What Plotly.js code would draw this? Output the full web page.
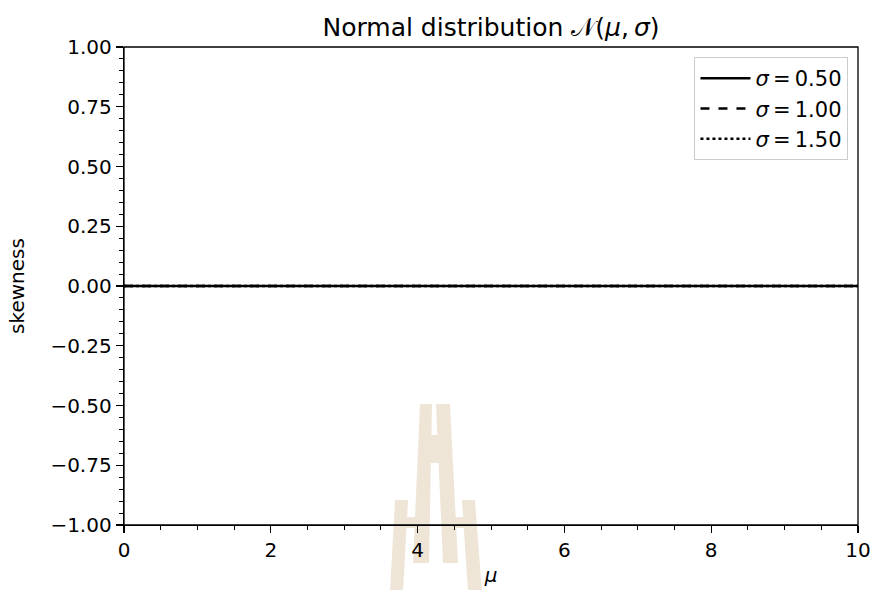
<!DOCTYPE html>
<html>
<head>
<meta charset="utf-8">
<script src="https://cdn.plot.ly/plotly-3.0.1.min.js"></script>
<style>html,body{margin:0;padding:0;background:#fff;}#chart{width:873px;height:590px;}</style>
</head>
<body>
<div id="chart"></div>
<script>
// Data
const mu = [0, 1, 2, 3, 4, 5, 6, 7, 8, 9, 10];
const skew_s050 = [0, 0, 0, 0, 0, 0, 0, 0, 0, 0, 0];
const skew_s100 = [0, 0, 0, 0, 0, 0, 0, 0, 0, 0, 0];
const skew_s150 = [0, 0, 0, 0, 0, 0, 0, 0, 0, 0, 0];
const seriesNames = ['<i>σ</i>\u2009=\u20090.50', '<i>σ</i>\u2009=\u20091.00', '<i>σ</i>\u2009=\u20091.50'];
const yTicks = [-1, -0.75, -0.5, -0.25, 0, 0.25, 0.5, 0.75, 1];
const xTicks = [0, 2, 4, 6, 8, 10];

const W = 873, H = 590;
const M = {l: 124, r: 15, t: 47, b: 65};
const pw = W - M.l - M.r, ph = H - M.t - M.b;
function px(x){ return (x - M.l) / pw; }
function py(y){ return (H - M.b - y) / ph; }
function poly(pts){
  return 'M' + pts.map(p => px(p[0]).toFixed(5) + ',' + py(p[1]).toFixed(5)).join(' L') + ' Z';
}
const wm = '#EEE5D7';
const wmPolys = [
  [[420,404],[432,404],[429,563],[413,563]],
  [[436,404],[450,404],[458,563],[443,563]],
  [[430,435],[438,435],[439,463],[430,463]],
  [[395,500],[408,500],[403,592],[390,592]],
  [[405,517],[418,517],[418,528],[405,528]],
  [[462,500],[475,500],[482,592],[468,592]],
  [[452,517],[464,517],[465,528],[453,528]]
];
const shapes = wmPolys.map(p => ({type:'path', xref:'paper', yref:'paper', path: poly(p),
  fillcolor: wm, line:{width:0}, layer:'below'}));
shapes.push({type:'rect', xref:'paper', yref:'paper', x0:0, x1:1, y0:0, y1:1,
  line:{color:'#000', width:1.3}, fillcolor:'rgba(0,0,0,0)', layer:'above'});

const dashes = ['solid', 'dash', 'dot'];
const ys = [skew_s050, skew_s100, skew_s150];
const traces = ys.map((y, i) => ({
  x: mu, y: y, type: 'scatter', mode: 'lines', name: seriesNames[i],
  line: {color: '#000', width: 2.4, dash: dashes[i]}
}));

const fam = 'DejaVu Sans, sans-serif';
const layout = {
  width: W, height: H,
  margin: M,
  paper_bgcolor: '#fff', plot_bgcolor: 'rgba(0,0,0,0)',
  font: {family: fam, size: 20, color: '#000'},
  showlegend: true,
  title: {text: 'Normal distribution 𝒩(<i>μ</i>,\u2009<i>σ</i>)', font: {family: fam, size: 25, color: '#000'},
    xref: 'paper', x: 0.5, xanchor: 'center', y: 1 - 27/H, yanchor: 'middle'},
  xaxis: {
    range: [0, 10], tickvals: xTicks, ticktext: xTicks.map(String),
    ticks: 'outside', ticklen: 7, tickwidth: 1.3, tickcolor: '#000',
    showline: true, linecolor: '#000', linewidth: 1.3,
    showgrid: false, zeroline: false,
    minor: {dtick: 0.5, ticks: 'outside', ticklen: 4, tickwidth: 1, tickcolor: '#000', showgrid: false},
    title: {text: '<i>μ</i>', font: {family: fam, size: 20}, standoff: 6},
    tickfont: {family: fam, size: 20}
  },
  yaxis: {
    range: [-1, 1], tickvals: yTicks, tickformat: '.2f',
    ticks: 'outside', ticklen: 7, tickwidth: 1.3, tickcolor: '#000',
    showline: true, linecolor: '#000', linewidth: 1.3,
    showgrid: false, zeroline: false,
    minor: {dtick: 0.05, ticks: 'outside', ticklen: 4, tickwidth: 1, tickcolor: '#000', showgrid: false},
    title: {text: 'skewness', font: {family: fam, size: 20}, standoff: 20},
    tickfont: {family: fam, size: 20}
  },
  legend: {
    x: 0.987, xanchor: 'right', y: 0.979, yanchor: 'top',
    bgcolor: 'rgba(255,255,255,0.85)', bordercolor: '#cccccc', borderwidth: 1,
    font: {family: fam, size: 21, color: '#000'},
    itemwidth: 50,
    tracegroupgap: 2
  },
  shapes: shapes
};
Plotly.newPlot('chart', traces, layout, {displayModeBar: false, staticPlot: true});
</script>
</body>
</html>
